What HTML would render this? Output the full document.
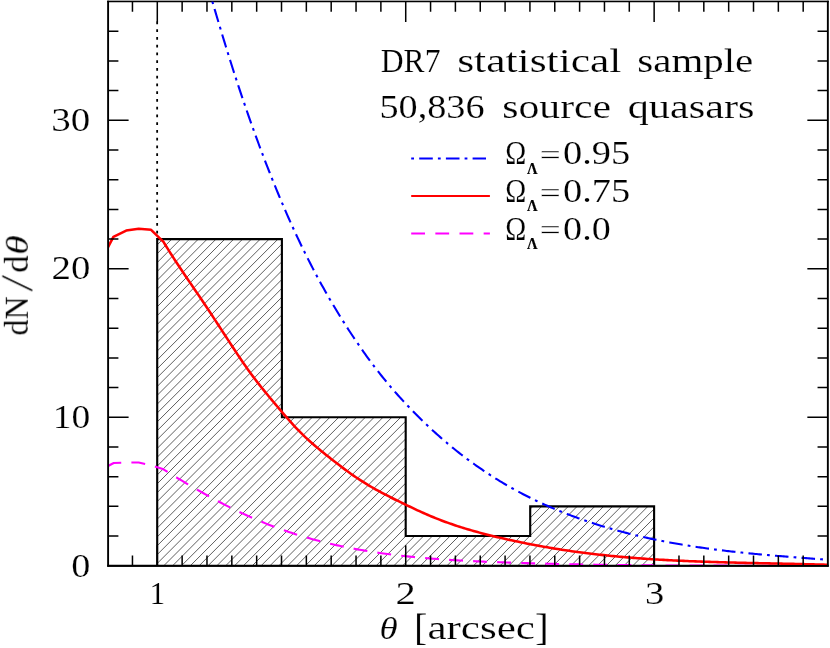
<!DOCTYPE html>
<html><head><meta charset="utf-8"><title>dN/dtheta</title>
<style>html,body{margin:0;padding:0;background:#fff;}body{width:830px;height:648px;overflow:hidden;font-family:"Liberation Serif",serif;}svg{display:block}</style>
</head><body>
<svg width="830" height="648" viewBox="0 0 830 648">
<defs>
<clipPath id="hc"><path d="M157.2,565.75 V239.09 H281.9 V417.27 H405.7 V536.05 H530.2 V506.36 H654.1 V565.75 Z"/></clipPath>
<clipPath id="pc"><rect x="108.1" y="1.4" width="719.75" height="564.3000000000001"/></clipPath>
</defs>
<rect width="830" height="648" fill="#fff"/>
<path clip-path="url(#hc)" d="M-206.80,600 L193.20,200 M-197.95,600 L202.05,200 M-189.10,600 L210.90,200 M-180.25,600 L219.75,200 M-171.40,600 L228.60,200 M-162.55,600 L237.45,200 M-153.70,600 L246.30,200 M-144.85,600 L255.15,200 M-136.00,600 L264.00,200 M-127.15,600 L272.85,200 M-118.30,600 L281.70,200 M-109.45,600 L290.55,200 M-100.60,600 L299.40,200 M-91.75,600 L308.25,200 M-82.90,600 L317.10,200 M-74.05,600 L325.95,200 M-65.20,600 L334.80,200 M-56.35,600 L343.65,200 M-47.50,600 L352.50,200 M-38.65,600 L361.35,200 M-29.80,600 L370.20,200 M-20.95,600 L379.05,200 M-12.10,600 L387.90,200 M-3.25,600 L396.75,200 M5.60,600 L405.60,200 M14.45,600 L414.45,200 M23.30,600 L423.30,200 M32.15,600 L432.15,200 M41.00,600 L441.00,200 M49.85,600 L449.85,200 M58.70,600 L458.70,200 M67.55,600 L467.55,200 M76.40,600 L476.40,200 M85.25,600 L485.25,200 M94.10,600 L494.10,200 M102.95,600 L502.95,200 M111.80,600 L511.80,200 M120.65,600 L520.65,200 M129.50,600 L529.50,200 M138.35,600 L538.35,200 M147.20,600 L547.20,200 M156.05,600 L556.05,200 M164.90,600 L564.90,200 M173.75,600 L573.75,200 M182.60,600 L582.60,200 M191.45,600 L591.45,200 M200.30,600 L600.30,200 M209.15,600 L609.15,200 M218.00,600 L618.00,200 M226.85,600 L626.85,200 M235.70,600 L635.70,200 M244.55,600 L644.55,200 M253.40,600 L653.40,200 M262.25,600 L662.25,200 M271.10,600 L671.10,200 M279.95,600 L679.95,200 M288.80,600 L688.80,200 M297.65,600 L697.65,200 M306.50,600 L706.50,200 M315.35,600 L715.35,200 M324.20,600 L724.20,200 M333.05,600 L733.05,200 M341.90,600 L741.90,200 M350.75,600 L750.75,200 M359.60,600 L759.60,200 M368.45,600 L768.45,200 M377.30,600 L777.30,200 M386.15,600 L786.15,200 M395.00,600 L795.00,200 M403.85,600 L803.85,200 M412.70,600 L812.70,200 M421.55,600 L821.55,200 M430.40,600 L830.40,200 M439.25,600 L839.25,200 M448.10,600 L848.10,200 M456.95,600 L856.95,200 M465.80,600 L865.80,200 M474.65,600 L874.65,200 M483.50,600 L883.50,200 M492.35,600 L892.35,200 M501.20,600 L901.20,200 M510.05,600 L910.05,200 M518.90,600 L918.90,200 M527.75,600 L927.75,200 M536.60,600 L936.60,200 M545.45,600 L945.45,200 M554.30,600 L954.30,200 M563.15,600 L963.15,200 M572.00,600 L972.00,200 M580.85,600 L980.85,200 M589.70,600 L989.70,200 M598.55,600 L998.55,200 M607.40,600 L1007.40,200 M616.25,600 L1016.25,200 M625.10,600 L1025.10,200" stroke="#2a2a2a" stroke-width="0.75" fill="none"/>
<path d="M157.2,565.75 V239.09 H281.9 V417.27 H405.7 V536.05 H530.2 V506.36 H654.1 V565.75" stroke="#000" stroke-width="2.12" fill="none" stroke-linejoin="miter"/>
<path d="M157.15,21.45 V239.09" stroke="#000" stroke-width="1.8" stroke-dasharray="2.8 4.95" fill="none"/>
<path d="M107.14999999999999,565.7 H828.8000000000001" stroke="#000" stroke-width="1.9" fill="none"/>
<rect x="107.14999999999999" y="0" width="721.65" height="1" fill="#a6a6a6"/>
<path d="M107.14999999999999,1.625 H828.8000000000001" stroke="#000" stroke-width="1.25" fill="none"/>
<g clip-path="url(#pc)" fill="none" stroke-linejoin="round">
<path d="M107.00,466.60 L113.70,463.00 L126.20,462.60 L138.70,462.50 L151.10,465.20 L163.50,469.31 L165.50,470.57 L167.50,471.83 L169.50,473.08 L171.50,474.32 L173.50,475.56 L175.50,476.79 L177.50,478.02 L179.50,479.24 L181.50,480.45 L183.50,481.65 L185.50,482.85 L187.50,484.04 L189.50,485.22 L191.50,486.40 L193.50,487.56 L195.50,488.72 L197.50,489.87 L199.50,491.02 L201.50,492.15 L203.50,493.28 L205.50,494.40 L207.50,495.51 L209.50,496.61 L211.50,497.70 L213.50,498.78 L215.50,499.86 L217.50,500.92 L219.50,501.98 L221.50,503.03 L223.50,504.06 L225.50,505.09 L227.50,506.11 L229.50,507.11 L231.50,508.11 L233.50,509.10 L235.50,510.08 L237.50,511.04 L239.50,512.00 L241.50,512.94 L243.50,513.88 L245.50,514.80 L247.50,515.71 L249.50,516.61 L251.50,517.50 L253.50,518.38 L255.50,519.25 L257.50,520.10 L259.50,520.94 L261.50,521.78 L263.50,522.59 L265.50,523.40 L267.50,524.20 L269.50,524.98 L271.50,525.75 L273.50,526.51 L275.50,527.26 L277.50,528.00 L279.50,528.73 L281.50,529.44 L283.50,530.15 L285.50,530.84 L287.50,531.52 L289.50,532.19 L291.50,532.85 L293.50,533.51 L295.50,534.15 L297.50,534.78 L299.50,535.39 L301.50,536.00 L303.50,536.60 L305.50,537.19 L307.50,537.77 L309.50,538.34 L311.50,538.90 L313.50,539.45 L315.50,539.99 L317.50,540.53 L319.50,541.05 L321.50,541.56 L323.50,542.07 L325.50,542.56 L327.50,543.05 L329.50,543.53 L331.50,544.00 L333.50,544.46 L335.50,544.91 L337.50,545.35 L339.50,545.79 L341.50,546.22 L343.50,546.64 L345.50,547.05 L347.50,547.45 L349.50,547.85 L351.50,548.24 L353.50,548.62 L355.50,548.99 L357.50,549.36 L359.50,549.71 L361.50,550.07 L363.50,550.41 L365.50,550.75 L367.50,551.08 L369.50,551.40 L371.50,551.72 L373.50,552.03 L375.50,552.34 L377.50,552.63 L379.50,552.92 L381.50,553.21 L383.50,553.49 L385.50,553.76 L387.50,554.03 L389.50,554.29 L391.50,554.55 L393.50,554.80 L395.50,555.04 L397.50,555.28 L399.50,555.52 L401.50,555.74 L403.50,555.97 L405.50,556.18 L407.50,556.40 L409.50,556.61 L411.50,556.81 L413.50,557.01 L415.50,557.20 L417.50,557.39 L419.50,557.57 L421.50,557.75 L423.50,557.93 L425.50,558.10 L427.50,558.27 L429.50,558.43 L431.50,558.59 L433.50,558.75 L435.50,558.90 L437.50,559.05 L439.50,559.19 L441.50,559.33 L443.50,559.47 L445.50,559.60 L447.50,559.73 L449.50,559.86 L451.50,559.98 L453.50,560.10 L455.50,560.22 L457.50,560.33 L459.50,560.45 L461.50,560.56 L463.50,560.66 L465.50,560.77 L467.50,560.87 L469.50,560.97 L471.50,561.07 L473.50,561.16 L475.50,561.25 L477.50,561.34 L479.50,561.43 L481.50,561.52 L483.50,561.60 L485.50,561.69 L487.50,561.77 L489.50,561.85 L491.50,561.93 L493.50,562.01 L495.50,562.08 L497.50,562.16 L499.50,562.23 L501.50,562.31 L503.50,562.38 L505.50,562.45 L507.50,562.52 L509.50,562.59 L511.50,562.66 L513.50,562.72 L515.50,562.79 L517.50,562.85 L519.50,562.92 L521.50,562.98 L523.50,563.04 L525.50,563.10 L527.50,563.16 L529.50,563.22 L531.50,563.28 L533.50,563.34 L535.50,563.39 L537.50,563.45 L539.50,563.50 L541.50,563.56 L543.50,563.61 L545.50,563.66 L547.50,563.71 L549.50,563.76 L551.50,563.81 L553.50,563.86 L555.50,563.91 L557.50,563.95 L559.50,564.00 L561.50,564.04 L563.50,564.09 L565.50,564.13 L567.50,564.17 L569.50,564.22 L571.50,564.26 L573.50,564.30 L575.50,564.34 L577.50,564.38 L579.50,564.41 L581.50,564.45 L583.50,564.49 L585.50,564.52 L587.50,564.56 L589.50,564.59 L591.50,564.63 L593.50,564.66 L595.50,564.69 L597.50,564.72 L599.50,564.75 L601.50,564.78 L603.50,564.81 L605.50,564.84 L607.50,564.87 L609.50,564.90 L611.50,564.92 L613.50,564.95 L615.50,564.97 L617.50,565.00 L619.50,565.02 L621.50,565.05 L623.50,565.07 L625.50,565.09 L627.50,565.12 L629.50,565.14 L631.50,565.16 L633.50,565.18 L635.50,565.20 L637.50,565.22 L639.50,565.24 L641.50,565.25 L643.50,565.27 L645.50,565.29 L647.50,565.31 L649.50,565.32 L651.50,565.34 L653.50,565.35 L655.50,565.37 L657.50,565.38 L659.50,565.40 L661.50,565.41 L663.50,565.42 L665.50,565.44 L667.50,565.45 L669.50,565.46 L671.50,565.47 L673.50,565.48 L675.50,565.49 L677.50,565.50 L679.50,565.51 L681.50,565.52 L683.50,565.53 L685.50,565.54 L687.50,565.55 L689.50,565.56 L691.50,565.57 L693.50,565.57 L695.50,565.58 L697.50,565.59 L699.50,565.60 L701.50,565.60 L703.50,565.61 L705.50,565.61 L707.50,565.62 L709.50,565.62 L711.50,565.63 L713.50,565.63 L715.50,565.64 L717.50,565.64 L719.50,565.65 L721.50,565.65 L723.50,565.66 L725.50,565.66 L727.50,565.66 L729.50,565.67 L731.50,565.67 L733.50,565.67 L735.50,565.68 L737.50,565.68 L739.50,565.68 L741.50,565.68 L743.50,565.68 L745.50,565.69 L747.50,565.69 L749.50,565.69 L751.50,565.69 L753.50,565.69 L755.50,565.70 L757.50,565.70 L759.50,565.70 L761.50,565.70 L763.50,565.70 L765.50,565.70 L767.50,565.71 L769.50,565.71 L771.50,565.71 L773.50,565.71 L775.50,565.71 L777.50,565.71 L779.50,565.71 L781.50,565.72 L783.50,565.72 L785.50,565.72 L787.50,565.72 L789.50,565.72 L791.50,565.72 L793.50,565.73 L795.50,565.73 L797.50,565.73 L799.50,565.73 L801.50,565.73 L803.50,565.74 L805.50,565.74 L807.50,565.74 L809.50,565.74 L811.50,565.75 L813.50,565.75 L815.50,565.75 L817.50,565.76 L819.50,565.76 L821.50,565.76 L823.50,565.77 L825.50,565.77 L827.50,565.77 L829.50,565.78" stroke="#ff00ff" stroke-width="2.1" stroke-dasharray="13.9 10.15" stroke-dashoffset="22.8"/>
<path d="M212.20,1.02 L213.70,6.09 L215.20,11.15 L216.70,16.19 L218.20,21.22 L219.70,26.23 L221.20,31.22 L222.70,36.19 L224.20,41.12 L225.70,46.02 L227.20,50.88 L228.70,55.71 L230.20,60.50 L231.70,65.25 L233.20,69.95 L234.70,74.61 L236.20,79.24 L237.70,83.82 L239.20,88.36 L240.70,92.86 L242.20,97.32 L243.70,101.75 L245.20,106.14 L246.70,110.49 L248.20,114.80 L249.70,119.08 L251.20,123.32 L252.70,127.53 L254.20,131.70 L255.70,135.83 L257.20,139.93 L258.70,144.00 L260.20,148.03 L261.70,152.03 L263.20,155.99 L264.70,159.92 L266.20,163.81 L267.70,167.67 L269.20,171.50 L270.70,175.29 L272.20,179.05 L273.70,182.78 L275.20,186.47 L276.70,190.13 L278.20,193.76 L279.70,197.35 L281.20,200.91 L282.70,204.44 L284.20,207.93 L285.70,211.39 L287.20,214.82 L288.70,218.22 L290.20,221.58 L291.70,224.90 L293.20,228.20 L294.70,231.46 L296.20,234.69 L297.70,237.88 L299.20,241.04 L300.70,244.18 L302.20,247.28 L303.70,250.35 L305.20,253.38 L306.70,256.39 L308.20,259.37 L309.70,262.32 L311.20,265.24 L312.70,268.13 L314.20,270.99 L315.70,273.83 L317.20,276.64 L318.70,279.42 L320.20,282.17 L321.70,284.90 L323.20,287.60 L324.70,290.28 L326.20,292.93 L327.70,295.55 L329.20,298.16 L330.70,300.73 L332.20,303.29 L333.70,305.82 L335.20,308.33 L336.70,310.82 L338.20,313.28 L339.70,315.72 L341.20,318.14 L342.70,320.54 L344.20,322.93 L345.70,325.29 L347.20,327.63 L348.70,329.95 L350.20,332.25 L351.70,334.53 L353.20,336.79 L354.70,339.04 L356.20,341.26 L357.70,343.46 L359.20,345.65 L360.70,347.81 L362.20,349.96 L363.70,352.08 L365.20,354.18 L366.70,356.27 L368.20,358.33 L369.70,360.38 L371.20,362.40 L372.70,364.40 L374.20,366.38 L375.70,368.35 L377.20,370.29 L378.70,372.21 L380.20,374.11 L381.70,375.99 L383.20,377.85 L384.70,379.69 L386.20,381.51 L387.70,383.32 L389.20,385.10 L390.70,386.87 L392.20,388.62 L393.70,390.35 L395.20,392.07 L396.70,393.77 L398.20,395.45 L399.70,397.12 L401.20,398.77 L402.70,400.41 L404.20,402.03 L405.70,403.64 L407.20,405.24 L408.70,406.82 L410.20,408.39 L411.70,409.95 L413.20,411.49 L414.70,413.02 L416.20,414.54 L417.70,416.04 L419.20,417.54 L420.70,419.02 L422.20,420.48 L423.70,421.94 L425.20,423.38 L426.70,424.81 L428.20,426.23 L429.70,427.64 L431.20,429.03 L432.70,430.41 L434.20,431.78 L435.70,433.14 L437.20,434.49 L438.70,435.82 L440.20,437.15 L441.70,438.46 L443.20,439.76 L444.70,441.05 L446.20,442.32 L447.70,443.59 L449.20,444.85 L450.70,446.09 L452.20,447.32 L453.70,448.54 L455.20,449.75 L456.70,450.95 L458.20,452.14 L459.70,453.32 L461.20,454.49 L462.70,455.64 L464.20,456.79 L465.70,457.92 L467.20,459.05 L468.70,460.16 L470.20,461.27 L471.70,462.36 L473.20,463.45 L474.70,464.52 L476.20,465.59 L477.70,466.64 L479.20,467.68 L480.70,468.72 L482.20,469.74 L483.70,470.76 L485.20,471.76 L486.70,472.76 L488.20,473.74 L489.70,474.72 L491.20,475.69 L492.70,476.65 L494.20,477.60 L495.70,478.54 L497.20,479.47 L498.70,480.39 L500.20,481.30 L501.70,482.20 L503.20,483.10 L504.70,483.99 L506.20,484.86 L507.70,485.73 L509.20,486.59 L510.70,487.45 L512.20,488.29 L513.70,489.13 L515.20,489.95 L516.70,490.77 L518.20,491.58 L519.70,492.39 L521.20,493.18 L522.70,493.97 L524.20,494.75 L525.70,495.52 L527.20,496.28 L528.70,497.04 L530.20,497.79 L531.70,498.53 L533.20,499.26 L534.70,499.99 L536.20,500.71 L537.70,501.42 L539.20,502.12 L540.70,502.82 L542.20,503.51 L543.70,504.19 L545.20,504.87 L546.70,505.54 L548.20,506.20 L549.70,506.86 L551.20,507.51 L552.70,508.15 L554.20,508.79 L555.70,509.42 L557.20,510.04 L558.70,510.66 L560.20,511.27 L561.70,511.88 L563.20,512.48 L564.70,513.07 L566.20,513.66 L567.70,514.24 L569.20,514.82 L570.70,515.39 L572.20,515.95 L573.70,516.51 L575.20,517.06 L576.70,517.61 L578.20,518.15 L579.70,518.69 L581.20,519.22 L582.70,519.75 L584.20,520.27 L585.70,520.78 L587.20,521.29 L588.70,521.80 L590.20,522.30 L591.70,522.80 L593.20,523.29 L594.70,523.77 L596.20,524.25 L597.70,524.73 L599.20,525.20 L600.70,525.67 L602.20,526.13 L603.70,526.59 L605.20,527.04 L606.70,527.48 L608.20,527.93 L609.70,528.37 L611.20,528.80 L612.70,529.23 L614.20,529.65 L615.70,530.07 L617.20,530.49 L618.70,530.90 L620.20,531.30 L621.70,531.71 L623.20,532.10 L624.70,532.50 L626.20,532.89 L627.70,533.27 L629.20,533.65 L630.70,534.03 L632.20,534.40 L633.70,534.77 L635.20,535.13 L636.70,535.49 L638.20,535.85 L639.70,536.20 L641.20,536.55 L642.70,536.89 L644.20,537.23 L645.70,537.57 L647.20,537.90 L648.70,538.23 L650.20,538.55 L651.70,538.88 L653.20,539.19 L654.70,539.51 L656.20,539.82 L657.70,540.12 L659.20,540.43 L660.70,540.73 L662.20,541.02 L663.70,541.32 L665.20,541.61 L666.70,541.89 L668.20,542.17 L669.70,542.45 L671.20,542.73 L672.70,543.00 L674.20,543.27 L675.70,543.54 L677.20,543.80 L678.70,544.06 L680.20,544.32 L681.70,544.57 L683.20,544.82 L684.70,545.07 L686.20,545.31 L687.70,545.56 L689.20,545.79 L690.70,546.03 L692.20,546.26 L693.70,546.49 L695.20,546.72 L696.70,546.95 L698.20,547.17 L699.70,547.39 L701.20,547.60 L702.70,547.82 L704.20,548.03 L705.70,548.24 L707.20,548.45 L708.70,548.65 L710.20,548.85 L711.70,549.05 L713.20,549.25 L714.70,549.44 L716.20,549.63 L717.70,549.82 L719.20,550.01 L720.70,550.20 L722.20,550.38 L723.70,550.56 L725.20,550.74 L726.70,550.92 L728.20,551.09 L729.70,551.27 L731.20,551.44 L732.70,551.61 L734.20,551.77 L735.70,551.94 L737.20,552.10 L738.70,552.26 L740.20,552.42 L741.70,552.58 L743.20,552.74 L744.70,552.89 L746.20,553.04 L747.70,553.19 L749.20,553.34 L750.70,553.49 L752.20,553.64 L753.70,553.78 L755.20,553.93 L756.70,554.07 L758.20,554.21 L759.70,554.35 L761.20,554.49 L762.70,554.62 L764.20,554.76 L765.70,554.89 L767.20,555.03 L768.70,555.16 L770.20,555.29 L771.70,555.42 L773.20,555.55 L774.70,555.67 L776.20,555.80 L777.70,555.93 L779.20,556.05 L780.70,556.17 L782.20,556.30 L783.70,556.42 L785.20,556.54 L786.70,556.66 L788.20,556.78 L789.70,556.90 L791.20,557.02 L792.70,557.14 L794.20,557.25 L795.70,557.37 L797.20,557.48 L798.70,557.60 L800.20,557.71 L801.70,557.83 L803.20,557.94 L804.70,558.06 L806.20,558.17 L807.70,558.28 L809.20,558.40 L810.70,558.51 L812.20,558.62 L813.70,558.73 L815.20,558.84 L816.70,558.96 L818.20,559.07 L819.70,559.18 L821.20,559.29 L822.70,559.40 L824.20,559.51 L825.70,559.63 L827.20,559.74 L828.70,559.85 L830.20,559.96" stroke="#0000ff" stroke-width="2.1" stroke-dasharray="2.8 5.2 13.55 5.09" stroke-dashoffset="26.38"/>
<path d="M107.00,249.20 L113.40,236.90 L126.20,230.60 L138.70,228.80 L151.10,229.80 L163.50,241.95 L165.50,245.22 L167.50,248.43 L169.50,251.61 L171.50,254.75 L173.50,257.86 L175.50,260.94 L177.50,263.99 L179.50,267.01 L181.50,270.01 L183.50,273.00 L185.50,275.97 L187.50,278.92 L189.50,281.87 L191.50,284.81 L193.50,287.75 L195.50,290.69 L197.50,293.64 L199.50,296.58 L201.50,299.54 L203.50,302.52 L205.50,305.50 L207.50,308.51 L209.50,311.53 L211.50,314.56 L213.50,317.61 L215.50,320.66 L217.50,323.73 L219.50,326.80 L221.50,329.87 L223.50,332.95 L225.50,336.03 L227.50,339.10 L229.50,342.17 L231.50,345.24 L233.50,348.29 L235.50,351.32 L237.50,354.34 L239.50,357.33 L241.50,360.29 L243.50,363.21 L245.50,366.09 L247.50,368.93 L249.50,371.72 L251.50,374.45 L253.50,377.13 L255.50,379.77 L257.50,382.36 L259.50,384.91 L261.50,387.43 L263.50,389.92 L265.50,392.37 L267.50,394.81 L269.50,397.22 L271.50,399.62 L273.50,402.00 L275.50,404.37 L277.50,406.74 L279.50,409.10 L281.50,411.45 L283.50,413.80 L285.50,416.12 L287.50,418.42 L289.50,420.69 L291.50,422.93 L293.50,425.13 L295.50,427.29 L297.50,429.40 L299.50,431.45 L301.50,433.46 L303.50,435.40 L305.50,437.30 L307.50,439.16 L309.50,440.97 L311.50,442.75 L313.50,444.49 L315.50,446.20 L317.50,447.88 L319.50,449.53 L321.50,451.17 L323.50,452.78 L325.50,454.38 L327.50,455.97 L329.50,457.56 L331.50,459.13 L333.50,460.70 L335.50,462.26 L337.50,463.81 L339.50,465.34 L341.50,466.86 L343.50,468.37 L345.50,469.86 L347.50,471.32 L349.50,472.77 L351.50,474.19 L353.50,475.59 L355.50,476.96 L357.50,478.31 L359.50,479.62 L361.50,480.91 L363.50,482.18 L365.50,483.41 L367.50,484.63 L369.50,485.82 L371.50,486.99 L373.50,488.14 L375.50,489.28 L377.50,490.39 L379.50,491.48 L381.50,492.56 L383.50,493.63 L385.50,494.67 L387.50,495.71 L389.50,496.73 L391.50,497.75 L393.50,498.75 L395.50,499.74 L397.50,500.73 L399.50,501.70 L401.50,502.68 L403.50,503.64 L405.50,504.61 L407.50,505.57 L409.50,506.52 L411.50,507.47 L413.50,508.42 L415.50,509.36 L417.50,510.29 L419.50,511.21 L421.50,512.12 L423.50,513.02 L425.50,513.90 L427.50,514.77 L429.50,515.63 L431.50,516.47 L433.50,517.30 L435.50,518.11 L437.50,518.90 L439.50,519.68 L441.50,520.45 L443.50,521.20 L445.50,521.94 L447.50,522.66 L449.50,523.37 L451.50,524.07 L453.50,524.75 L455.50,525.43 L457.50,526.09 L459.50,526.73 L461.50,527.37 L463.50,527.99 L465.50,528.61 L467.50,529.21 L469.50,529.80 L471.50,530.39 L473.50,530.96 L475.50,531.52 L477.50,532.07 L479.50,532.62 L481.50,533.15 L483.50,533.68 L485.50,534.20 L487.50,534.71 L489.50,535.21 L491.50,535.71 L493.50,536.20 L495.50,536.68 L497.50,537.16 L499.50,537.63 L501.50,538.09 L503.50,538.55 L505.50,539.00 L507.50,539.45 L509.50,539.89 L511.50,540.33 L513.50,540.76 L515.50,541.19 L517.50,541.61 L519.50,542.03 L521.50,542.44 L523.50,542.85 L525.50,543.26 L527.50,543.65 L529.50,544.05 L531.50,544.44 L533.50,544.82 L535.50,545.20 L537.50,545.57 L539.50,545.94 L541.50,546.30 L543.50,546.66 L545.50,547.01 L547.50,547.36 L549.50,547.71 L551.50,548.04 L553.50,548.38 L555.50,548.70 L557.50,549.03 L559.50,549.34 L561.50,549.66 L563.50,549.96 L565.50,550.26 L567.50,550.56 L569.50,550.85 L571.50,551.14 L573.50,551.42 L575.50,551.70 L577.50,551.97 L579.50,552.24 L581.50,552.51 L583.50,552.76 L585.50,553.02 L587.50,553.27 L589.50,553.51 L591.50,553.75 L593.50,553.99 L595.50,554.22 L597.50,554.45 L599.50,554.67 L601.50,554.89 L603.50,555.11 L605.50,555.32 L607.50,555.53 L609.50,555.73 L611.50,555.93 L613.50,556.13 L615.50,556.32 L617.50,556.50 L619.50,556.69 L621.50,556.87 L623.50,557.05 L625.50,557.22 L627.50,557.39 L629.50,557.55 L631.50,557.72 L633.50,557.88 L635.50,558.03 L637.50,558.18 L639.50,558.33 L641.50,558.48 L643.50,558.62 L645.50,558.76 L647.50,558.90 L649.50,559.03 L651.50,559.16 L653.50,559.29 L655.50,559.42 L657.50,559.54 L659.50,559.66 L661.50,559.77 L663.50,559.89 L665.50,560.00 L667.50,560.11 L669.50,560.21 L671.50,560.32 L673.50,560.42 L675.50,560.52 L677.50,560.61 L679.50,560.71 L681.50,560.80 L683.50,560.89 L685.50,560.98 L687.50,561.06 L689.50,561.15 L691.50,561.23 L693.50,561.31 L695.50,561.39 L697.50,561.46 L699.50,561.54 L701.50,561.61 L703.50,561.68 L705.50,561.75 L707.50,561.82 L709.50,561.88 L711.50,561.95 L713.50,562.01 L715.50,562.07 L717.50,562.13 L719.50,562.19 L721.50,562.25 L723.50,562.30 L725.50,562.36 L727.50,562.41 L729.50,562.46 L731.50,562.52 L733.50,562.57 L735.50,562.62 L737.50,562.67 L739.50,562.72 L741.50,562.76 L743.50,562.81 L745.50,562.86 L747.50,562.90 L749.50,562.95 L751.50,562.99 L753.50,563.03 L755.50,563.08 L757.50,563.12 L759.50,563.16 L761.50,563.21 L763.50,563.25 L765.50,563.29 L767.50,563.33 L769.50,563.37 L771.50,563.42 L773.50,563.46 L775.50,563.50 L777.50,563.54 L779.50,563.58 L781.50,563.63 L783.50,563.67 L785.50,563.71 L787.50,563.75 L789.50,563.80 L791.50,563.84 L793.50,563.89 L795.50,563.93 L797.50,563.98 L799.50,564.02 L801.50,564.07 L803.50,564.12 L805.50,564.17 L807.50,564.21 L809.50,564.26 L811.50,564.32 L813.50,564.37 L815.50,564.42 L817.50,564.47 L819.50,564.53 L821.50,564.59 L823.50,564.64 L825.50,564.70 L827.50,564.76 L829.50,564.82" stroke="#ff0000" stroke-width="2.55"/>
</g>
<path d="M108.1,0.66 V566.6500000000001 M827.85,0.66 V566.6500000000001" stroke="#000" stroke-width="1.9" fill="none"/>
<path d="M108.1,565.85 H827.85" stroke="#000" stroke-width="1.6" fill="none"/>
<path d="M132.46,565.7 v-10.3 M132.46,1.4 v10.3 M157.30,565.7 v-20.5 M157.30,1.4 v20.5 M182.14,565.7 v-10.3 M182.14,1.4 v10.3 M206.98,565.7 v-10.3 M206.98,1.4 v10.3 M231.83,565.7 v-10.3 M231.83,1.4 v10.3 M256.67,565.7 v-10.3 M256.67,1.4 v10.3 M281.51,565.7 v-10.3 M281.51,1.4 v10.3 M306.35,565.7 v-10.3 M306.35,1.4 v10.3 M331.19,565.7 v-10.3 M331.19,1.4 v10.3 M356.04,565.7 v-10.3 M356.04,1.4 v10.3 M380.88,565.7 v-10.3 M380.88,1.4 v10.3 M405.72,565.7 v-20.5 M405.72,1.4 v20.5 M430.56,565.7 v-10.3 M430.56,1.4 v10.3 M455.40,565.7 v-10.3 M455.40,1.4 v10.3 M480.25,565.7 v-10.3 M480.25,1.4 v10.3 M505.09,565.7 v-10.3 M505.09,1.4 v10.3 M529.93,565.7 v-10.3 M529.93,1.4 v10.3 M554.77,565.7 v-10.3 M554.77,1.4 v10.3 M579.61,565.7 v-10.3 M579.61,1.4 v10.3 M604.46,565.7 v-10.3 M604.46,1.4 v10.3 M629.30,565.7 v-10.3 M629.30,1.4 v10.3 M654.14,565.7 v-20.5 M654.14,1.4 v20.5 M678.98,565.7 v-10.3 M678.98,1.4 v10.3 M703.82,565.7 v-10.3 M703.82,1.4 v10.3 M728.67,565.7 v-10.3 M728.67,1.4 v10.3 M753.51,565.7 v-10.3 M753.51,1.4 v10.3 M778.35,565.7 v-10.3 M778.35,1.4 v10.3 M803.19,565.7 v-10.3 M803.19,1.4 v10.3 M108.1,536.05 h10.3 M827.85,536.05 h-10.3 M108.1,506.36 h10.3 M827.85,506.36 h-10.3 M108.1,476.66 h10.3 M827.85,476.66 h-10.3 M108.1,446.97 h10.3 M827.85,446.97 h-10.3 M108.1,417.27 h20.5 M827.85,417.27 h-20.5 M108.1,387.57 h10.3 M827.85,387.57 h-10.3 M108.1,357.88 h10.3 M827.85,357.88 h-10.3 M108.1,328.18 h10.3 M827.85,328.18 h-10.3 M108.1,298.49 h10.3 M827.85,298.49 h-10.3 M108.1,268.79 h20.5 M827.85,268.79 h-20.5 M108.1,239.09 h10.3 M827.85,239.09 h-10.3 M108.1,209.40 h10.3 M827.85,209.40 h-10.3 M108.1,179.70 h10.3 M827.85,179.70 h-10.3 M108.1,150.01 h10.3 M827.85,150.01 h-10.3 M108.1,120.31 h20.5 M827.85,120.31 h-20.5 M108.1,90.61 h10.3 M827.85,90.61 h-10.3 M108.1,60.92 h10.3 M827.85,60.92 h-10.3 M108.1,31.22 h10.3 M827.85,31.22 h-10.3" stroke="#000" stroke-width="1.5" fill="none"/>
<path d="M411.2,158.4 H486" stroke="#0000ff" stroke-width="2" stroke-dasharray="2.8 5.2 13.6 5.1" fill="none"/>
<path d="M411.2,195.9 H489.9" stroke="#ff0000" stroke-width="2" fill="none"/>
<path d="M411.2,233.6 H489.9" stroke="#ff00ff" stroke-width="2" stroke-dasharray="13.8 10.35" fill="none"/>
<g font-family="'Liberation Serif', serif" fill="#000" stroke="#fff" stroke-width="0.16" opacity="0.999">
<text transform="matrix(0.9646,0,0,1.0000,380.75,71.80)" font-size="32.8" >DR7</text>
<text transform="matrix(1.3261,0,0,1.0000,457.16,71.80)" font-size="32.8" >statistical</text>
<text transform="matrix(1.2482,0,0,1.0000,637.36,71.80)" font-size="32.8" >sample</text>
<text transform="matrix(1.1656,0,0,1.0000,379.41,118.30)" font-size="32.8" >50,836</text>
<text transform="matrix(1.2713,0,0,1.0000,502.23,118.30)" font-size="32.8" >source</text>
<text transform="matrix(1.2884,0,0,1.0000,627.71,118.30)" font-size="32.8" >quasars</text>
<text transform="matrix(0.8622,0,0,1.0000,505.29,164.30)" font-size="32.8" >Ω</text>
<text transform="matrix(0.8505,0,0,1.0000,527.05,173.50)" font-size="17.3" font-weight="bold" stroke="#000" stroke-width="0.25">Λ</text>
<text transform="matrix(1.1546,0,0,0.9000,539.61,165.15)" font-size="32.8" stroke-width="0.5">=</text>
<text transform="matrix(1.1702,0,0,1.0000,563.06,164.30)" font-size="32.8" >0.95</text>
<text transform="matrix(0.8622,0,0,1.0000,505.29,201.90)" font-size="32.8" >Ω</text>
<text transform="matrix(0.8505,0,0,1.0000,527.05,211.10)" font-size="17.3" font-weight="bold" stroke="#000" stroke-width="0.25">Λ</text>
<text transform="matrix(1.1546,0,0,0.9000,539.61,202.75)" font-size="32.8" stroke-width="0.5">=</text>
<text transform="matrix(1.1702,0,0,1.0000,563.06,201.90)" font-size="32.8" >0.75</text>
<text transform="matrix(0.8622,0,0,1.0000,505.29,239.50)" font-size="32.8" >Ω</text>
<text transform="matrix(0.8505,0,0,1.0000,527.05,248.70)" font-size="17.3" font-weight="bold" stroke="#000" stroke-width="0.25">Λ</text>
<text transform="matrix(1.1546,0,0,0.9000,539.61,240.35)" font-size="32.8" stroke-width="0.5">=</text>
<text transform="matrix(1.1622,0,0,1.0000,563.08,239.50)" font-size="32.8" >0.0</text>
<text transform="matrix(1.1687,0,0,1.0000,71.17,576.85)" font-size="32.8" >0</text>
<text transform="matrix(1.1424,0,0,1.0000,52.83,427.77)" font-size="32.8" >10</text>
<text transform="matrix(1.1864,0,0,1.0000,51.44,279.29)" font-size="32.8" >20</text>
<text transform="matrix(1.1894,0,0,1.0000,51.35,130.81)" font-size="32.8" >30</text>
<text transform="matrix(0.9582,0,0,0.9550,149.47,603.70)" font-size="32.8" >1</text>
<text transform="matrix(1.2348,0,0,0.9550,395.58,603.70)" font-size="32.8" >2</text>
<text transform="matrix(1.1749,0,0,0.9550,645.07,603.70)" font-size="32.8" >3</text>
<text transform="matrix(1.1905,0,0,1.0000,379.54,638.60)" font-size="31.2" font-style="italic">θ</text>
<text transform="matrix(1.2195,0,0,1.1490,414.10,639.90)" font-size="32.8" >[</text>
<text transform="matrix(1.3124,0,0,1.0000,427.38,638.60)" font-size="32.8" >arcsec</text>
<text transform="matrix(1.2611,0,0,1.1490,535.05,639.90)" font-size="32.8" >]</text>
<g transform="translate(27.8,334.3) rotate(-90)">
<text transform="matrix(0.9751,0,0,1.0000,-1.28,0.00)" font-size="32.8" >dN</text>
<text transform="matrix(1.9817,0,0,1.4370,41.90,5.00)" font-size="32.8" stroke-width="0.55">/</text>
<text transform="matrix(1.0637,0,0,1.0000,61.60,0.00)" font-size="32.8" >d</text>
<text transform="matrix(1.2744,0,0,1.0000,79.51,0.00)" font-size="31.2" font-style="italic">θ</text>
</g>
</g>
</svg>
</body></html>
